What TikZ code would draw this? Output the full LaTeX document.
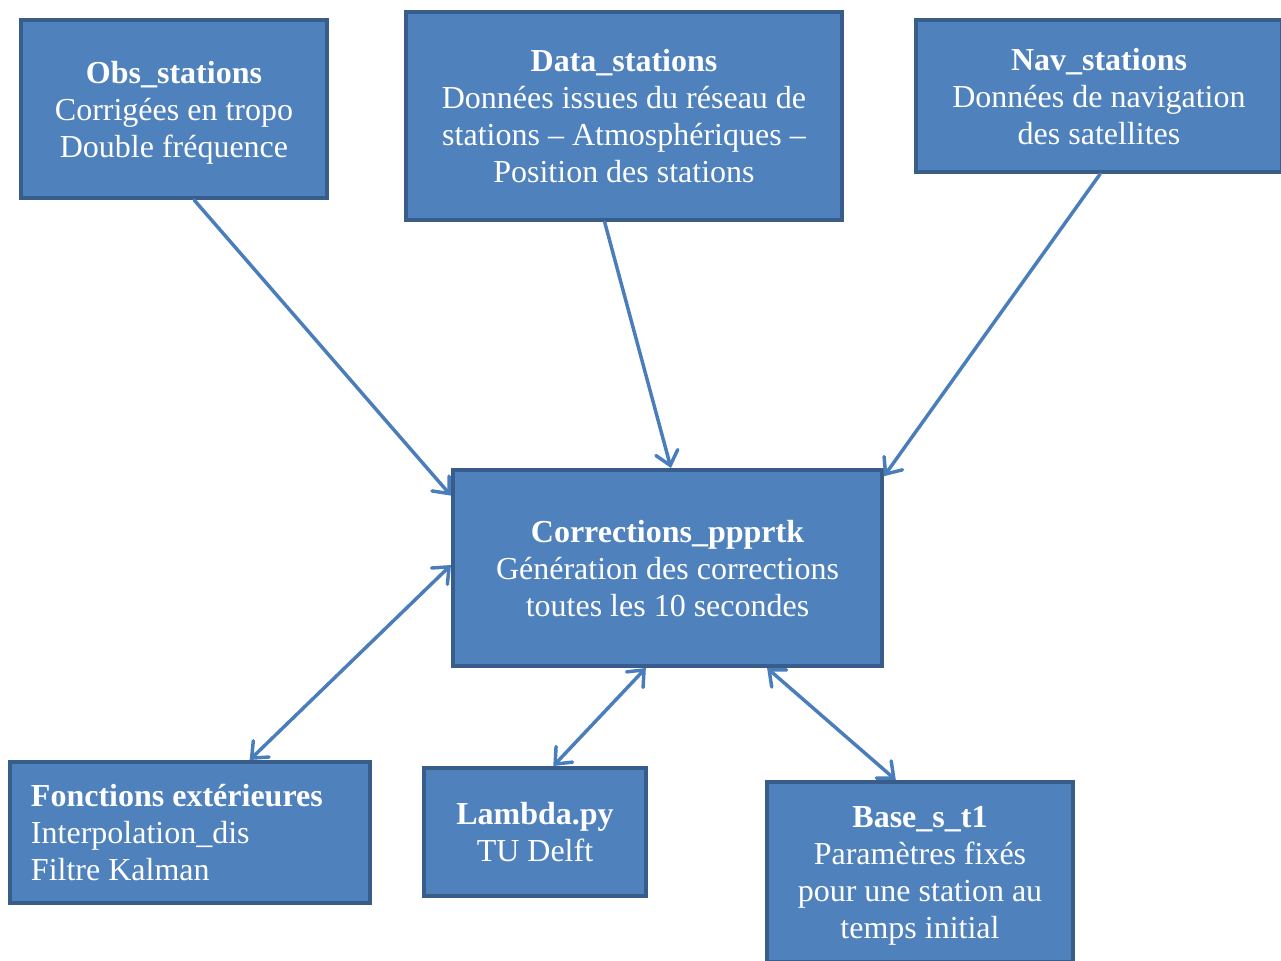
\documentclass[tikz,border=0pt]{standalone}
\usepackage{fontspec}
\setmainfont{Liberation Serif}
\usetikzlibrary{arrows.meta,calc}
\definecolor{boxfill}{HTML}{4F81BD}
\definecolor{boxdraw}{HTML}{385D8A}
\definecolor{arrowc}{HTML}{4A7EBB}
\begin{document}
\begin{tikzpicture}[x=0.75pt,y=-0.75pt,
  boxbase/.style={rectangle, fill=boxfill, draw=boxdraw, line width=3pt, text=white,
    inner sep=0pt, font=\fontsize{24}{27.75}\selectfont},
  box/.style={boxbase, align=center, text depth=0pt},
  leftbox/.style={boxbase, align=flush left},
  conn/.style={draw=arrowc, line width=2.6pt, line cap=round, -{Straight Barb[length=10pt,width=17pt,line cap=round]}},
  biconn/.style={conn, {Straight Barb[length=10pt,width=17pt,line cap=round]}-{Straight Barb[length=10pt,width=17pt,line cap=round]}}]
\useasboundingbox (0,0) rectangle (1281,960);
\clip (0,0) rectangle (1281,960);
\node[box, minimum width=229.5pt, minimum height=133.5pt] (obs) at (174,109)
  {\textbf{Obs\_stations}\\Corrigées en tropo\\Double fréquence};
\node[box, minimum width=327pt, minimum height=156pt] (data) at (624,116)
  {\textbf{Data\_stations}\\Données issues du réseau de\\stations – Atmosphériques –\\Position des stations};
\node[box, minimum width=274.5pt, minimum height=114pt] (nav) at (1099,96)
  {\textbf{Nav\_stations}\\Données de navigation\\des satellites};
\node[box, minimum width=321.75pt, minimum height=147pt] (corr) at (667.5,568)
  {\textbf{Corrections\_ppprtk}\\Génération des corrections\\toutes les 10 secondes};
\node[leftbox, minimum width=270pt, minimum height=105.75pt,
  text width=238.5pt] (fonc) at (190,832.5)
  {\textbf{Fonctions extérieures}\\Interpolation\_dis\\Filtre Kalman};
\node[box, minimum width=166.5pt, minimum height=96pt] (lambda) at (535,832)
  {\textbf{Lambda.py}\\TU Delft};
\node[box, minimum width=229.5pt, minimum height=135pt] (base) at (920,872)
  {\textbf{Base\_s\_t1}\\Paramètres fixés\\pour une station au\\temps initial};
\draw[conn] ($(obs.south west)!0.565!(obs.south east)$) -- ($(corr.north west)!0.138!(corr.south west)$);
\draw[conn] ($(data.south west)!0.456!(data.south east)$) -- ($(corr.north west)!0.508!(corr.north east)$);
\draw[conn] ($(nav.south west)!0.503!(nav.south east)$) -- ($(corr.north east)!0.041!(corr.south east)$);
\draw[biconn] ($(fonc.north west)!0.664!(fonc.north east)$) -- ($(corr.north west)!0.485!(corr.south west)$);
\draw[biconn] ($(lambda.north west)!0.581!(lambda.north east)$) -- ($(corr.south west)!0.45!(corr.south east)$);
\draw[biconn] ($(base.north west)!0.422!(base.north east)$) -- ($(corr.south west)!0.73!(corr.south east)$);
\end{tikzpicture}
\end{document}
